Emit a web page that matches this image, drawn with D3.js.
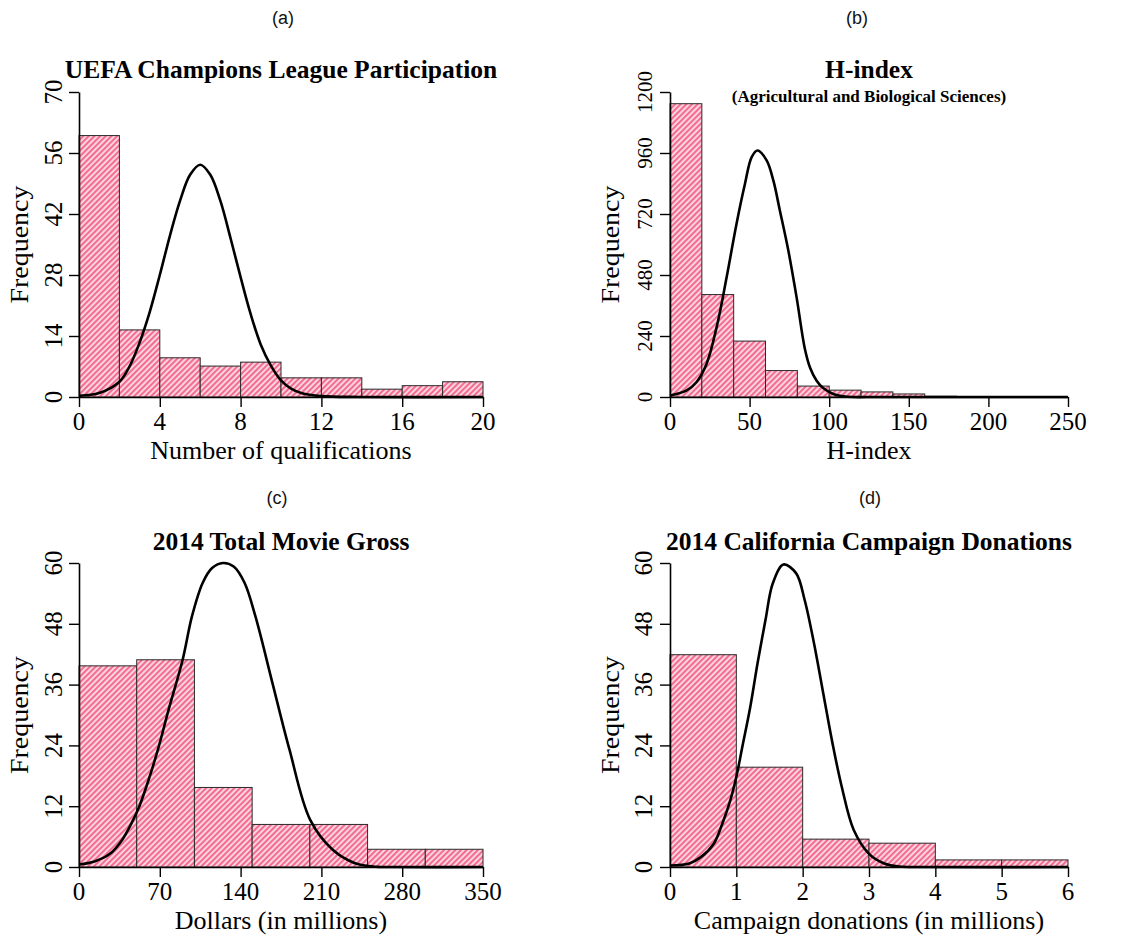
<!DOCTYPE html>
<html><head><meta charset="utf-8">
<script src="https://cdn.jsdelivr.net/npm/d3@7/dist/d3.min.js"></script>
<style>
html,body{margin:0;padding:0;background:#fff;}
svg{display:block;}
</style></head>
<body>
<svg id="chart" width="1138" height="939"></svg>
<script>
// ---------- DATA ----------
// (a) UEFA Champions League Participation
const uefaBinEdges = [0,2,4,6,8,10,12,14,16,18,20];
const uefaCounts   = [60,15.4,9,7.1,8,4.4,4.4,1.8,2.6,3.5];
const uefaCurveX   = [0,1,2,2.5,3,3.5,4,4.5,5,5.5,6,6.5,7,7.5,8,8.5,9,9.5,10,10.5,11,12,14,20];
const uefaCurveY   = [0.3,0.9,3.5,7,12.5,19.5,28,37,45,51,53.3,51,45,36.5,27.5,19,12,7.2,3.8,1.9,0.9,0.2,0,0];
const uefaXTicks   = [0,4,8,12,16,20];
const uefaYTicks   = [0,14,28,42,56,70];

// (b) H-index (Agricultural and Biological Sciences)
const hBinEdges = [0,20,40,60,80,100,120,140,160,180];
const hCounts   = [1154,403,220,104,43,27,20,12,3];
const hCurveX   = [0,10.5,16.7,23,29.3,35.6,41.8,47.1,51.3,55,60.7,64.9,69,74.3,79.5,84.7,88,92,96.2,102.5,108.8,115,130,250];
const hCurveY   = [6,26,59,131,275,472,682,839,944,970,931,852,734,577,393,190,115,65,35,12,3,0,0,0];
const hXTicks   = [0,50,100,150,200,250];
const hYTicks   = [0,240,480,720,960,1200];

// (c) 2014 Total Movie Gross
const movieBinEdges = [0,50,100,150,200,250,300,350];
const movieCounts   = [39.7,40.9,15.7,8.4,8.4,3.5,3.5];
const movieCurveX   = [0,13.4,26.8,37.5,45.6,52.3,60.3,68.4,77.7,89.8,97.9,107.2,115.3,124.7,134,143.4,152.8,167.6,182.3,200.3,219.8,238.6,254.7,275,350];
const movieCurveY   = [0.5,1.1,2.6,5.4,8.7,12,17.2,23.2,31.1,40.9,49.5,56.1,59,60,59.3,56.1,49.5,36.3,23.2,9.3,3.4,0.8,0.1,0,0];
const movieXTicks   = [0,70,140,210,280,350];
const movieYTicks   = [0,12,24,36,48,60];

// (d) 2014 California Campaign Donations
const donBinEdges = [0,1,2,3,4,5,6];
const donCounts   = [41.9,19.7,5.5,4.7,1.4,1.4];
const donCurveX   = [0,0.29,0.47,0.66,0.79,0.91,1.0,1.09,1.21,1.32,1.44,1.55,1.71,1.9,2.03,2.17,2.31,2.45,2.59,2.77,3.0,3.23,3.46,3.8,6];
const donCurveY   = [0.3,0.7,2.0,4.6,8.6,13.2,17.8,23.7,31.6,40.2,48.8,56.0,59.7,58.0,52.7,44.2,34.3,24.4,15.8,7.3,2.6,0.7,0.1,0,0];
const donXTicks   = [0,1,2,3,4,5,6];
const donYTicks   = [0,12,24,36,48,60];

// ---------- DRAWING ----------
const svg = d3.select("#chart");
const defs = svg.append("defs");
const pat = defs.append("pattern").attr("id","hatch")
  .attr("patternUnits","userSpaceOnUse").attr("width",4).attr("height",4)
  .attr("patternTransform","rotate(45)");
pat.append("rect").attr("width",4).attr("height",4).attr("fill","#f36c91");
pat.append("line").attr("x1",1).attr("y1",0).attr("x2",1).attr("y2",4)
  .attr("stroke","#ffeef2").attr("stroke-width",1.6);

const serif = "'Liberation Serif','Times New Roman',serif";
const sans  = "'Liberation Sans',Arial,sans-serif";

const panels = [
  {tag:"(a)", tagX:283, tagY:24, title:"UEFA Champions League Participation", sub:null,
   xlab:"Number of qualifications", edges:uefaBinEdges, counts:uefaCounts, cx:uefaCurveX, cy:uefaCurveY,
   xt:uefaXTicks, yt:uefaYTicks, x0:79, x1:483, yTop:92, yBot:397, ytl:62, yts:25, fl:28, top:0},
  {tag:"(b)", tagX:857, tagY:24, title:"H-index", sub:"(Agricultural and Biological Sciences)",
   xlab:"H-index", edges:hBinEdges, counts:hCounts, cx:hCurveX, cy:hCurveY,
   xt:hXTicks, yt:hYTicks, x0:670, x1:1068, yTop:92, yBot:397, ytl:652, yts:21, fl:619, top:0},
  {tag:"(c)", tagX:277, tagY:504, title:"2014 Total Movie Gross", sub:null,
   xlab:"Dollars (in millions)", edges:movieBinEdges, counts:movieCounts, cx:movieCurveX, cy:movieCurveY,
   xt:movieXTicks, yt:movieYTicks, x0:79, x1:483, yTop:563, yBot:867, ytl:62, yts:25, fl:28, top:472},
  {tag:"(d)", tagX:870, tagY:504, title:"2014 California Campaign Donations", sub:null,
   xlab:"Campaign donations (in millions)", edges:donBinEdges, counts:donCounts, cx:donCurveX, cy:donCurveY,
   xt:donXTicks, yt:donYTicks, x0:670, x1:1068, yTop:563, yBot:867, ytl:652, yts:25, fl:619, top:472}
];

panels.forEach(p => {
  const g = svg.append("g");
  const xs = d3.scaleLinear().domain([p.xt[0], p.xt[p.xt.length-1]]).range([p.x0, p.x1]);
  const ys = d3.scaleLinear().domain([p.yt[0], p.yt[p.yt.length-1]]).range([p.yBot, p.yTop]);
  const cxm = (p.x0 + p.x1)/2;

  // panel tag
  g.append("text").attr("x", p.tagX).attr("y", p.tagY).attr("text-anchor","middle")
    .attr("font-family", sans).attr("font-size", 18).attr("fill","#111").text(p.tag);

  // title
  g.append("text").attr("x", cxm).attr("y", p.top + 78).attr("text-anchor","middle")
    .attr("font-family", serif).attr("font-weight","bold").attr("font-size", 25.5).text(p.title);
  if (p.sub) {
    g.append("text").attr("x", cxm).attr("y", p.top + 102).attr("text-anchor","middle")
      .attr("font-family", serif).attr("font-weight","bold").attr("font-size", 17).text(p.sub);
  }

  // bars
  const bins = p.counts.map((c,i) => ({x0:p.edges[i], x1:p.edges[i+1], c}));
  g.append("g").selectAll("rect").data(bins).join("rect")
    .attr("x", d => xs(d.x0)).attr("width", d => xs(d.x1) - xs(d.x0))
    .attr("y", d => ys(d.c)).attr("height", d => ys(0) - ys(d.c))
    .attr("fill","url(#hatch)").attr("stroke","#2a2a2a").attr("stroke-width",1);

  // normal curve
  const line = d3.line().x(d => xs(d[0])).y(d => Math.min(ys(d[1]), ys(0))).curve(d3.curveCatmullRom.alpha(0.5));
  g.append("path").datum(p.cx.map((v,i)=>[v, p.cy[i]]))
    .attr("d", line).attr("fill","none").attr("stroke","#000").attr("stroke-width",2.6)
    .attr("stroke-linejoin","round");

  // axes
  const xAxis = d3.axisBottom(xs).tickValues(p.xt).tickSize(10).tickSizeOuter(0);
  const yAxis = d3.axisLeft(ys).tickValues(p.yt).tickSize(10).tickSizeOuter(0);
  const gx = g.append("g").attr("transform", `translate(0,${p.yBot})`).call(xAxis);
  const gy = g.append("g").attr("transform", `translate(${p.x0},0)`).call(yAxis);
  [gx, gy].forEach(a => {
    a.select(".domain").attr("stroke","#000").attr("stroke-width",1.6);
    a.selectAll(".tick line").attr("stroke","#000").attr("stroke-width",1.4);
    a.selectAll("text").remove();
  });
  // x tick labels
  g.append("g").selectAll("text").data(p.xt).join("text")
    .attr("x", d => xs(d)).attr("y", p.yBot + 33).attr("text-anchor","middle")
    .attr("font-family", serif).attr("font-size", 25).attr("fill","#000").text(d => d);
  // y tick labels (rotated, parallel to axis)
  g.append("g").selectAll("text").data(p.yt).join("text")
    .attr("transform", d => `translate(${p.ytl},${ys(d)}) rotate(-90)`)
    .attr("text-anchor","middle").attr("font-family", serif).attr("font-size", p.yts)
    .attr("fill","#000").text(d => d);

  // axis titles
  g.append("text").attr("x", cxm).attr("y", p.yBot + 62).attr("text-anchor","middle")
    .attr("font-family", serif).attr("font-size", 26).text(p.xlab);
  g.append("text").attr("transform", `translate(${p.fl},${(p.yTop+p.yBot)/2}) rotate(-90)`)
    .attr("text-anchor","middle").attr("font-family", serif).attr("font-size", 25)
    .attr("textLength", 118).attr("lengthAdjust","spacingAndGlyphs").text("Frequency");
});
</script>
</body></html>
